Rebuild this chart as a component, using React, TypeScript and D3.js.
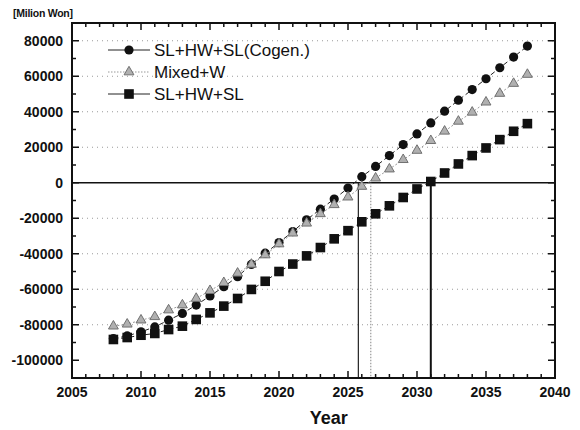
import React from "react";
import * as d3 from "d3";

const WIDTH = 580;
const HEIGHT = 430;
const MARGIN = { top: 23, right: 25, bottom: 52, left: 72 };

const years = d3.range(2008, 2039);

// values in million won
const cogen = [
  -87800, -86300, -84000, -81200, -77400, -73600, -68900, -63800, -58600, -52900,
  -46000, -39700, -33700, -27500, -20900, -14900, -9200, -3000, 3400, 9200,
  15300, 21500, 27500, 33700, 40300, 46500, 52500, 58600, 64800, 70800, 77000,
];
const mixed = [
  -80800, -79700, -77400, -75500, -71700, -68900, -65200, -60800, -56300, -51000,
  -46000, -40700, -34500, -28400, -22800, -17500, -12400, -8100, -2100, 2600,
  7700, 13000, 18200, 23700, 29000, 34600, 39700, 45400, 50300, 55900, 61000,
];
const slhwsl = [
  -88300, -87200, -85900, -84900, -82700, -80800, -77000, -73300, -69500, -65200,
  -60100, -55500, -50000, -45800, -41200, -36500, -31600, -27000, -22000, -17500,
  -13000, -8300, -3500, 700, 5500, 10600, 15300, 19600, 24300, 29000, 33300,
];

const seriesNames = ["SL+HW+SL(Cogen.)", "Mixed+W", "SL+HW+SL"];
const breakEven = [2025.75, 2026.65, 2031.0];

const xTicks = [2005, 2010, 2015, 2020, 2025, 2030, 2035, 2040];
const yTicks = [80000, 60000, 40000, 20000, 0, -20000, -40000, -60000, -80000, -100000];

const FONT = "Arial, 'Liberation Sans', sans-serif";

function Marker({ kind, x, y }: { kind: string; x: number; y: number }) {
  if (kind === "circle") return <circle cx={x} cy={y} r={4.6} fill="#111" />;
  if (kind === "square")
    return <rect x={x - 4.8} y={y - 4.8} width={9.6} height={9.6} fill="#111" />;
  const s = d3.symbol().type(d3.symbolTriangle).size(42)();
  return (
    <path
      d={s || ""}
      transform={`translate(${x},${y})`}
      fill="#b0b0b0"
      stroke="#707070"
      strokeWidth={1}
    />
  );
}

export default function App() {
  const boundsWidth = WIDTH - MARGIN.left - MARGIN.right;
  const boundsHeight = HEIGHT - MARGIN.top - MARGIN.bottom;

  const xScale = d3.scaleLinear().domain([2005, 2040]).range([0, boundsWidth]);
  const yScale = d3.scaleLinear().domain([-110000, 90000]).range([boundsHeight, 0]);

  const series = [
    { name: seriesNames[0], values: cogen, kind: "circle", stroke: "#222", dash: "5,3" },
    { name: seriesNames[1], values: mixed, kind: "triangle", stroke: "#999", dash: "2,2" },
    { name: seriesNames[2], values: slhwsl, kind: "square", stroke: "#222", dash: "5,3" },
  ];

  const line = d3
    .line<number>()
    .x((_, i) => xScale(years[i]))
    .y((v) => yScale(v));

  const xMinor = d3.range(2005, 2041);
  const yMinor = d3.range(-110000, 90001, 10000);
  const vLineStyles = [
    { stroke: "#222", width: 1.2, dash: undefined },
    { stroke: "#999", width: 1.2, dash: "1.5,1.5" },
    { stroke: "#111", width: 2, dash: undefined },
  ];

  return (
    <svg
      width={WIDTH}
      height={HEIGHT}
      style={{ position: "absolute", left: 0, top: 0, background: "#fff" }}
      fontFamily={FONT}
    >
      <text x={13} y={17} fontSize={10.5} fontWeight="bold" fill="#111" textLength={60}>
        [Milion Won]
      </text>
      <g transform={`translate(${MARGIN.left}, ${MARGIN.top})`}>
        {/* dotted grid */}
        {yTicks
          .filter((t) => t !== 0 && t !== -100000)
          .map((t) => (
            <line
              key={t}
              x1={0}
              x2={boundsWidth}
              y1={yScale(t)}
              y2={yScale(t)}
              stroke="#9a9a9a"
              strokeWidth={1}
              strokeDasharray="1,4"
            />
          ))}
        {/* zero line */}
        <line x1={0} x2={boundsWidth} y1={yScale(0)} y2={yScale(0)} stroke="#111" strokeWidth={1.6} />

        {/* break-even lines */}
        {breakEven.map((b, i) => (
          <line
            key={b}
            x1={xScale(b)}
            x2={xScale(b)}
            y1={yScale(0)}
            y2={boundsHeight}
            stroke={vLineStyles[i].stroke}
            strokeWidth={vLineStyles[i].width}
            strokeDasharray={vLineStyles[i].dash}
          />
        ))}

        {/* series */}
        {series.map((s) => (
          <g key={s.name}>
            <path d={line(s.values) || ""} fill="none" stroke={s.stroke} strokeWidth={1} strokeDasharray={s.dash} />
            {s.values.map((v, i) => (
              <Marker key={i} kind={s.kind} x={xScale(years[i])} y={yScale(v)} />
            ))}
          </g>
        ))}

        {/* ticks, inward on all four sides */}
        {xMinor.map((t) => {
          const len = t % 5 === 0 ? 7 : 4;
          const x = xScale(t);
          return (
            <g key={t}>
              <line x1={x} x2={x} y1={boundsHeight} y2={boundsHeight - len} stroke="#111" strokeWidth={1.5} />
              <line x1={x} x2={x} y1={0} y2={len} stroke="#111" strokeWidth={1.5} />
            </g>
          );
        })}
        {yMinor.map((t) => {
          const len = t % 20000 === 0 ? 7 : 4;
          const y = yScale(t);
          return (
            <g key={t}>
              <line x1={0} x2={len} y1={y} y2={y} stroke="#111" strokeWidth={1.5} />
              <line x1={boundsWidth} x2={boundsWidth - len} y1={y} y2={y} stroke="#111" strokeWidth={1.5} />
            </g>
          );
        })}

        {/* frame */}
        <rect x={0} y={0} width={boundsWidth} height={boundsHeight} fill="none" stroke="#111" strokeWidth={2} />

        {/* tick labels */}
        {yTicks.map((t) => (
          <text key={t} x={-9} y={yScale(t) + 5} textAnchor="end" fontSize={14} fontWeight="bold" fill="#111">
            {t}
          </text>
        ))}
        {xTicks.map((t) => (
          <text key={t} x={xScale(t)} y={boundsHeight + 19} textAnchor="middle" fontSize={14} fontWeight="bold" fill="#111">
            {t}
          </text>
        ))}
        <text x={xScale(2023.6)} y={boundsHeight + 46} textAnchor="middle" fontSize={18} fontWeight="bold" fill="#111">
          Year
        </text>

        {/* legend */}
        {series.map((s, i) => {
          const y = 27 + i * 22;
          return (
            <g key={s.name}>
              <line
                x1={36}
                x2={78}
                y1={y}
                y2={y}
                stroke={s.kind === "triangle" ? "#999" : "#222"}
                strokeWidth={1}
                strokeDasharray={s.kind === "triangle" ? "1.5,1.5" : undefined}
              />
              <Marker kind={s.kind} x={57} y={y} />
              <text x={82} y={y + 6} fontSize={17} fill="#111">
                {s.name}
              </text>
            </g>
          );
        })}
      </g>
    </svg>
  );
}
